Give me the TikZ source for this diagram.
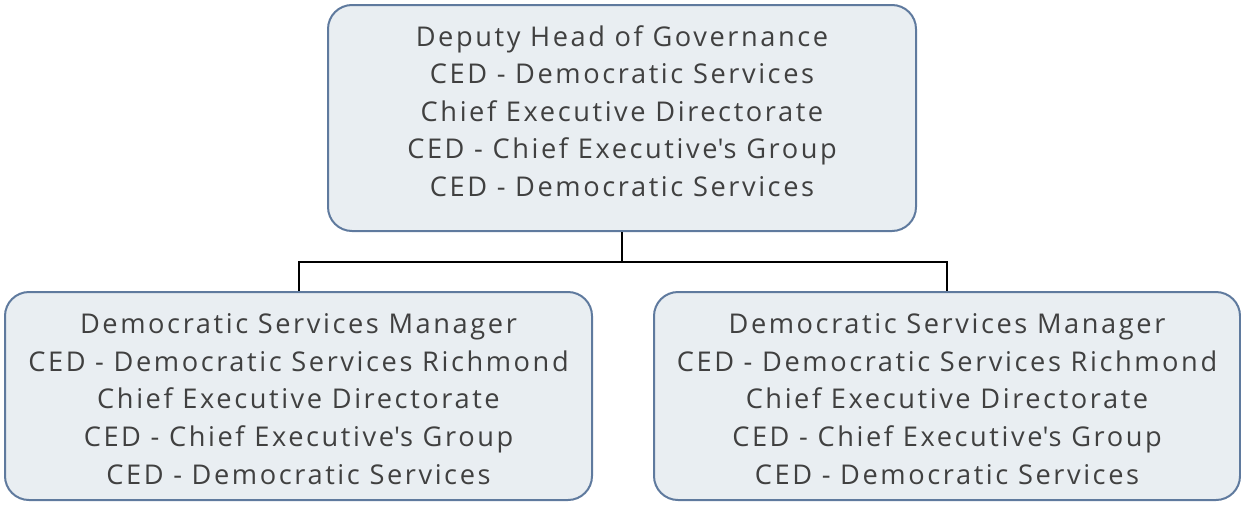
\documentclass[tikz,border=0pt]{standalone}
\usepackage{fontspec}
\setmainfont[LetterSpace=9.5]{Open Sans}
\usepackage{tikz}
\definecolor{OrgBoxFill}{RGB}{233,238,242}
\definecolor{OrgBoxLine}{RGB}{95,122,158}
\definecolor{OrgText}{RGB}{64,64,64}
\newcommand{\apos}{\textquotesingle}
\begin{document}
\begin{tikzpicture}[x=0.5pt,y=-0.5pt,
  post/.style n args={2}{draw=OrgBoxLine,fill=OrgBoxFill,line width=1pt,rounded corners=12pt,minimum width=#1*0.5pt,minimum height=#2*0.5pt,inner sep=0pt},
  posttext/.style={inner sep=0pt,align=center,text=OrgText,font=\fontsize{13.6}{18.8}\selectfont},
  link/.style={draw=black,line width=1pt}]
\useasboundingbox (0,0) rectangle (1241,504);
   \node[post={588}{226}](n0) at(622,118) {};
   \node[post={587}{208}](n1) at(298.5,396) {};
   \node[post={586}{208}](n2) at(947,396) {};
   \node[posttext](t0) at(622,111) {Deputy Head of Governance\\CED - Democratic Services\\Chief Executive Directorate\\CED - Chief Executive\apos s Group\\CED - Democratic Services};
   \node[posttext](t1) at(298.5,399) {Democratic Services Manager\\CED - Democratic Services Richmond\\Chief Executive Directorate\\CED - Chief Executive\apos s Group\\CED - Democratic Services};
   \node[posttext](t2) at(947,399) {Democratic Services Manager\\CED - Democratic Services Richmond\\Chief Executive Directorate\\CED - Chief Executive\apos s Group\\CED - Democratic Services};
\draw[link] (n0.south) -- ++(0,30) -| (n1.north);
\draw[link] (n0.south) -- ++(0,30) -| (n2.north);
\end{tikzpicture}
\end{document}
